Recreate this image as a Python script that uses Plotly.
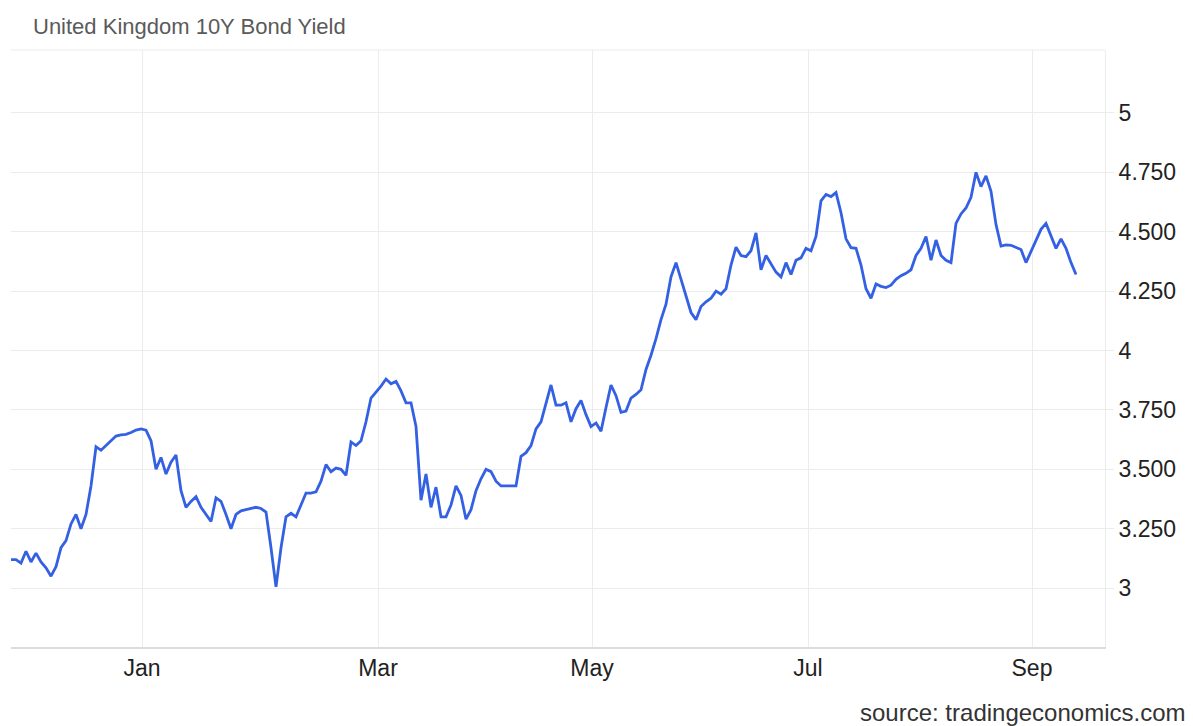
import plotly.graph_objects as go

title_text = "United Kingdom 10Y Bond Yield"
source_text = "source: tradingeconomics.com"

# UK 10Y yield, one value per trading session (Nov 2022 - Sep 2023)
yield_values = [
    3.12, 3.12, 3.105, 3.155, 3.11, 3.147, 3.11, 3.085, 3.05, 3.09,
    3.17, 3.20, 3.27, 3.31, 3.25, 3.31, 3.43, 3.595, 3.58, 3.60,
    3.62, 3.64, 3.645, 3.647, 3.655, 3.665, 3.67, 3.665, 3.62, 3.50,
    3.55, 3.48, 3.53, 3.56, 3.41, 3.34, 3.365, 3.385, 3.34, 3.31,
    3.28, 3.38, 3.365, 3.31, 3.25, 3.31, 3.325, 3.33, 3.335, 3.34,
    3.335, 3.32, 3.17, 3.005, 3.17, 3.30, 3.315, 3.30, 3.35, 3.40,
    3.40, 3.405, 3.45, 3.52, 3.49, 3.505, 3.50, 3.475, 3.615, 3.60,
    3.62, 3.70, 3.80, 3.825, 3.85, 3.88, 3.86, 3.87, 3.83, 3.78,
    3.78, 3.68, 3.37, 3.48, 3.34, 3.425, 3.30, 3.30, 3.35, 3.43,
    3.39, 3.29, 3.33, 3.41, 3.46, 3.50, 3.49, 3.45, 3.43, 3.43,
    3.43, 3.43, 3.555, 3.57, 3.60, 3.67, 3.70, 3.78, 3.855, 3.77,
    3.77, 3.78, 3.70, 3.755, 3.79, 3.73, 3.68, 3.695, 3.66, 3.76,
    3.855, 3.81, 3.74, 3.745, 3.80, 3.815, 3.835, 3.92, 3.98, 4.05,
    4.13, 4.195, 4.31, 4.37, 4.30, 4.225, 4.16, 4.13, 4.185, 4.205,
    4.22, 4.25, 4.237, 4.26, 4.36, 4.435, 4.40, 4.395, 4.42, 4.495,
    4.34, 4.40, 4.365, 4.33, 4.31, 4.37, 4.32, 4.38, 4.39, 4.43,
    4.42, 4.48, 4.63, 4.657, 4.648, 4.665, 4.58, 4.47, 4.433, 4.43,
    4.36, 4.26, 4.22, 4.28, 4.27, 4.265, 4.275, 4.30, 4.315, 4.325,
    4.34, 4.40, 4.43, 4.48, 4.38, 4.465, 4.40, 4.38, 4.37, 4.535,
    4.575, 4.60, 4.645, 4.75, 4.69, 4.735, 4.67, 4.53, 4.44, 4.445,
    4.443, 4.433, 4.425, 4.37, 4.415, 4.46, 4.51, 4.535, 4.48, 4.43,
    4.47, 4.43, 4.37, 4.32,
]
session_index = list(range(len(yield_values)))

month_labels = ["Jan", "Mar", "May", "Jul", "Sep"]
month_positions = [26.2, 73.4, 116.2, 159.4, 204.2]

y_tick_values = [3, 3.25, 3.5, 3.75, 4, 4.25, 4.5, 4.75, 5]
y_tick_labels = ["3", "3.250", "3.500", "3.750", "4", "4.250", "4.500", "4.750", "5"]

FONT = "Liberation Sans, Arial, sans-serif"
GRID = "#ececec"

W, H = 1185, 718  # page adds an 8px body margin

fig = go.Figure()
fig.add_trace(go.Scatter(
    x=session_index, y=yield_values, mode="lines",
    line=dict(color="#3461e3", width=2.8),
    hoverinfo="y", showlegend=False,
))

fig.update_layout(
    width=W, height=H,
    paper_bgcolor="white", plot_bgcolor="white",
    margin=dict(l=3, r=88, t=42, b=79),
    font=dict(family=FONT, color="#333333"),
    title=dict(text=title_text, x=25/W, xanchor="left", y=1-18/H, yanchor="middle",
               font=dict(size=22, color="#5a5a5a", family=FONT)),
    xaxis=dict(
        range=[0, 218.8], tickmode="array", tickvals=month_positions, ticktext=month_labels,
        showgrid=True, gridcolor=GRID, gridwidth=1,
        showline=True, linecolor="#dcdcdc", linewidth=1.5,
        ticks="", tickfont=dict(size=23, color="#222222"), ticklabelstandoff=0,
        zeroline=False, mirror=False,
    ),
    yaxis=dict(
        range=[2.752, 5.265], side="right", tickmode="array",
        tickvals=y_tick_values, ticktext=y_tick_labels,
        showgrid=True, gridcolor=GRID, gridwidth=1,
        showline=True, linecolor=GRID, linewidth=1,
        ticks="outside", ticklen=8, tickcolor=GRID,
        tickfont=dict(size=23, color="#222222"), zeroline=False,
    ),
    annotations=[dict(
        text=source_text, xref="paper", yref="paper",
        x=(1179-3)/1094, y=(639-704)/597, xanchor="right", yanchor="middle",
        showarrow=False, font=dict(size=24, color="#333333", family=FONT),
    )],
    shapes=[dict(type="line", xref="paper", yref="paper", x0=0, x1=1, y0=1, y1=1,
                 line=dict(color=GRID, width=1))],
)

fig.write_html("out.html")
